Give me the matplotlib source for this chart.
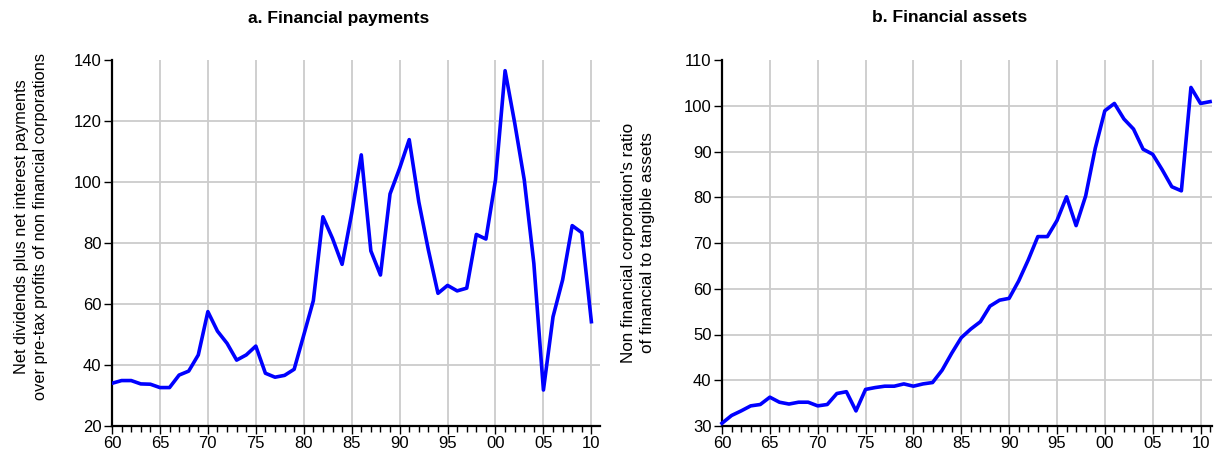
import matplotlib
matplotlib.use("Agg")
import matplotlib.pyplot as plt
from matplotlib.ticker import MultipleLocator, FixedLocator

plt.rcParams['font.family'] = ['Liberation Sans', 'DejaVu Sans']

years_a = list(range(1960, 2011))
payments = [34.0, 34.9, 34.9, 33.8, 33.7, 32.6, 32.6, 36.7, 38.0, 43.3,
            57.5, 51.1, 47.1, 41.6, 43.3, 46.2, 37.3, 36.0, 36.6, 38.6,
            49.8, 61.1, 88.6, 81.5, 73.0, 89.7, 108.9, 77.4, 69.5, 96.1,
            104.5, 113.9, 93.5, 77.7, 63.5, 66.1, 64.3, 65.2, 82.8, 81.3,
            100.7, 136.5, 119.4, 100.7, 73.3, 31.8, 55.8, 67.9, 85.7, 83.4,
            54.2]

years_b = list(range(1960, 2012))
assets = [30.6, 32.3, 33.3, 34.4, 34.7, 36.3, 35.2, 34.8, 35.2, 35.2,
          34.4, 34.7, 37.1, 37.5, 33.3, 38.0, 38.4, 38.7, 38.7, 39.2,
          38.7, 39.2, 39.5, 42.2, 45.9, 49.3, 51.2, 52.8, 56.2, 57.5,
          57.9, 61.7, 66.3, 71.4, 71.4, 74.9, 80.1, 73.8, 80.3, 90.7,
          98.9, 100.5, 97.1, 94.9, 90.5, 89.4, 86.0, 82.3, 81.4, 104.0,
          100.5, 100.9]

xtick_years = list(range(1960, 2011, 5))
xtick_labels = ['60', '65', '70', '75', '80', '85', '90', '95', '00', '05', '10']

fig = plt.figure(figsize=(12.18, 4.53), dpi=100)
ax1 = fig.add_axes([112/1218, 27/453, 488/1218, 366/453])
ax2 = fig.add_axes([722/1218, 27/453, 490/1218, 366/453])

def style(ax, xlim, ylim, ystep):
    ax.set_xlim(*xlim)
    ax.set_ylim(*ylim)
    for s in ['top', 'right']:
        ax.spines[s].set_visible(False)
    for s in ['left', 'bottom']:
        ax.spines[s].set_linewidth(1.6)
        ax.spines[s].set_color('black')
    ax.xaxis.set_major_locator(FixedLocator(xtick_years))
    ax.set_xticklabels(xtick_labels)
    ax.xaxis.set_minor_locator(MultipleLocator(1))
    ax.yaxis.set_major_locator(MultipleLocator(ystep))
    ax.tick_params(axis='both', which='major', direction='out', length=6, width=1,
                   labelsize=12, color='black', pad=1.5)
    ax.tick_params(axis='x', which='minor', direction='out', length=4.5, width=1)
    for yv in range(ylim[0] + ystep, ylim[1], ystep):
        ax.axhline(yv, color='#cccccc', lw=1.3, zorder=0)
    for xv in xtick_years[1:]:
        ax.axvline(xv, color='#cccccc', lw=1.3, zorder=0)

style(ax1, (1960, 2010.9), (20, 140), 20)
style(ax2, (1960, 2011.2), (30, 110), 10)

ax1.plot(years_a, payments, color='#0000ff', lw=2.6, zorder=3)
ax2.plot(years_b, assets, color='#0000ff', lw=2.6, zorder=3, clip_on=False)

ax1.set_ylabel('Net dividends plus net interest payments\nover pre-tax profits of non financial corporations',
               fontsize=11.8, linespacing=1.3)
ax1.yaxis.set_label_coords(-0.131, 0.546)
ax2.set_ylabel("Non financial corporation's ratio\nof financial to tangible assets",
               fontsize=12.3, linespacing=1.3)
ax2.yaxis.set_label_coords(-0.137, 0.5)

fig.text(339/1218, 1 - 18/453, 'a. Financial payments', ha='center', va='center',
         fontsize=12.6, fontweight='bold')
fig.text(950/1218, 1 - 18/453, 'b. Financial assets', ha='center', va='center',
         fontsize=12.6, fontweight='bold')

fig.savefig('out.png', dpi=100)
